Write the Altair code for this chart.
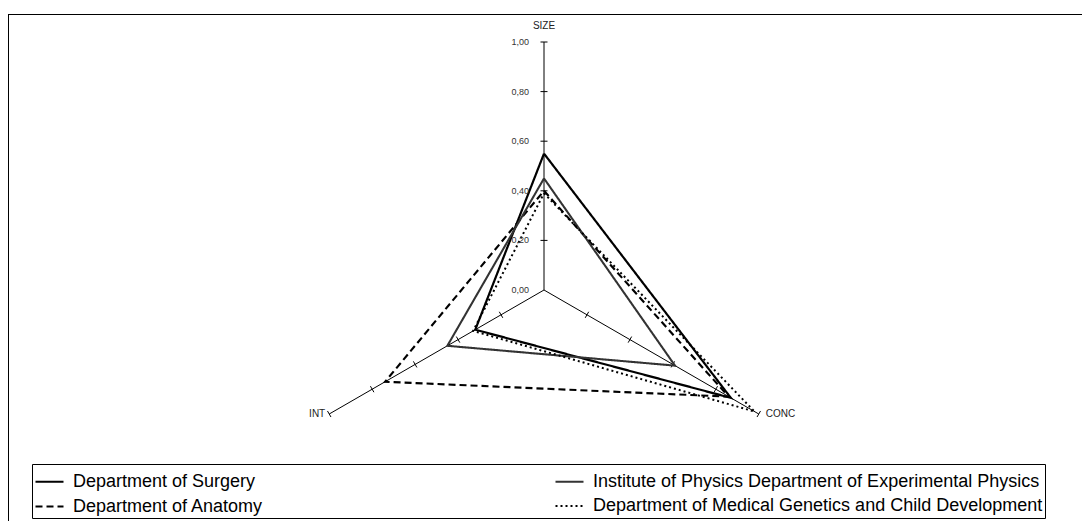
import math
import altair as alt
import pandas as pd

# ---- data ----
series = [
    "Department of Surgery",
    "Department of Anatomy",
    "Institute of Physics Department of Experimental Physics",
    "Department of Medical Genetics and Child Development",
]
axis_names = ["SIZE", "CONC", "INT"]
size_vals = [0.55, 0.40, 0.45, 0.39]
conc_vals = [0.87, 0.86, 0.61, 0.98]
int_vals = [0.32, 0.74, 0.45, 0.33]
tick_values = [0.0, 0.2, 0.4, 0.6, 0.8, 1.0]
tick_labels = ["0,00", "0,20", "0,40", "0,60", "0,80", "1,00"]

# ---- geometry of the radar ----
angles = {"SIZE": 90.0, "CONC": -30.0, "INT": 210.0}
PADL = 1
W, H = 1073, 507
R = 248.0                 # pixels per unit
CX, CY = 544.0 - 8 - PADL, 276.0  # centre inside the view (pixels)
xdom = [-CX / R, (W - CX) / R]
ydom = [-(H - CY) / R, CY / R]


def pt(axis, v):
    a = math.radians(angles[axis])
    return v * math.cos(a), v * math.sin(a)


rows = []
vals = {"SIZE": size_vals, "CONC": conc_vals, "INT": int_vals}
for i, s in enumerate(series):
    for k, ax in enumerate(axis_names + [axis_names[0]]):
        x, y = pt(ax, vals[ax][i])
        rows.append({"series": s, "order": k, "x": x, "y": y})
poly = pd.DataFrame(rows)

spokes = pd.DataFrame(
    [{"x": 0.0, "y": 0.0, "x2": pt(a, 1.0)[0], "y2": pt(a, 1.0)[1]} for a in axis_names]
)

h = 3.5 / R
trows = []
for a in axis_names:
    ang = math.radians(angles[a])
    nx, ny = -math.sin(ang), math.cos(ang)
    for v in tick_values[1:]:
        px, py = pt(a, v)
        trows.append({"x": px - h * nx, "y": py - h * ny, "x2": px + h * nx, "y2": py + h * ny})
ticks = pd.DataFrame(trows)

tick_text = pd.DataFrame({"x": [0.0] * len(tick_values), "y": tick_values, "label": tick_labels})

xs = alt.Scale(domain=xdom, nice=False, zero=False)
ys = alt.Scale(domain=ydom, nice=False, zero=False)
X = alt.X("x:Q", scale=xs, axis=None)
Y = alt.Y("y:Q", scale=ys, axis=None)

one = pd.DataFrame({"k": [0]})
frame_top = alt.Chart(one).mark_rule(color="black", strokeWidth=1).encode(
    x=alt.value(-PADL), x2=alt.value(W + 20), y=alt.value(0.5)
)
frame_left = alt.Chart(one).mark_rule(color="black", strokeWidth=1).encode(
    x=alt.value(-PADL + 0.5), y=alt.value(0), y2=alt.value(H + 20)
)

spoke_layer = alt.Chart(spokes).mark_rule(color="black", strokeWidth=1).encode(
    x=X, y=Y, x2="x2:Q", y2="y2:Q"
)
tick_layer = alt.Chart(ticks).mark_rule(color="black", strokeWidth=1).encode(
    x=X, y=Y, x2="x2:Q", y2="y2:Q"
)
tick_text_layer = alt.Chart(tick_text).mark_text(
    align="right", baseline="middle", dx=-15, fontSize=9, font="Liberation Sans", color="#333333"
).encode(x=X, y=Y, text="label:N")

title_layers = []
title_specs = {
    "SIZE": dict(align="center", dx=0, dy=-16),
    "CONC": dict(align="left", dx=7, dy=0),
    "INT": dict(align="right", dx=-4, dy=0),
}
for a in axis_names:
    ex, ey = pt(a, 1.0)
    df = pd.DataFrame({"x": [ex], "y": [ey], "label": [a]})
    title_layers.append(
        alt.Chart(df).mark_text(
            baseline="middle", fontSize=10, font="Liberation Sans", color="#222222", **title_specs[a]
        ).encode(x=X, y=Y, text="label:N")
    )

lines = alt.Chart(poly).mark_line(strokeJoin="miter", strokeCap="butt").encode(
    x=X,
    y=Y,
    order="order:Q",
    detail="series:N",
    color=alt.Color(
        "series:N",
        scale=alt.Scale(domain=series, range=["#000000", "#000000", "#333333", "#000000"]),
        legend=alt.Legend(
            orient="none", legendX=24 - PADL, legendY=450, columns=2, title=None,
            symbolType="stroke", symbolSize=784, labelFontSize=18, labelFont="Liberation Sans",
            labelColor="black", strokeColor="black", padding=2, rowPadding=0,
            columnPadding=287, labelOffset=8, symbolStrokeWidth=1.2,
            fillColor="white", labelLimit=0,
        ),
    ),
    strokeDash=alt.StrokeDash(
        "series:N",
        scale=alt.Scale(domain=series, range=[[1, 0], [7, 4], [1, 0], [2, 3]]),
        legend=None,
    ),
    strokeWidth=alt.StrokeWidth(
        "series:N",
        scale=alt.Scale(domain=series, range=[2.2, 2.0, 1.0, 1.5]),
        legend=None,
    ),
)

chart = alt.layer(
    frame_top, frame_left, spoke_layer, tick_layer, lines, tick_text_layer, *title_layers
).properties(
    width=W, height=H, padding={"left": PADL, "top": 6, "right": 0, "bottom": 0},
    autosize=alt.AutoSizeParams(type="none"),
).configure_view(stroke=None)

chart.save("out.html", embed_options={"renderer": "svg", "actions": False})
